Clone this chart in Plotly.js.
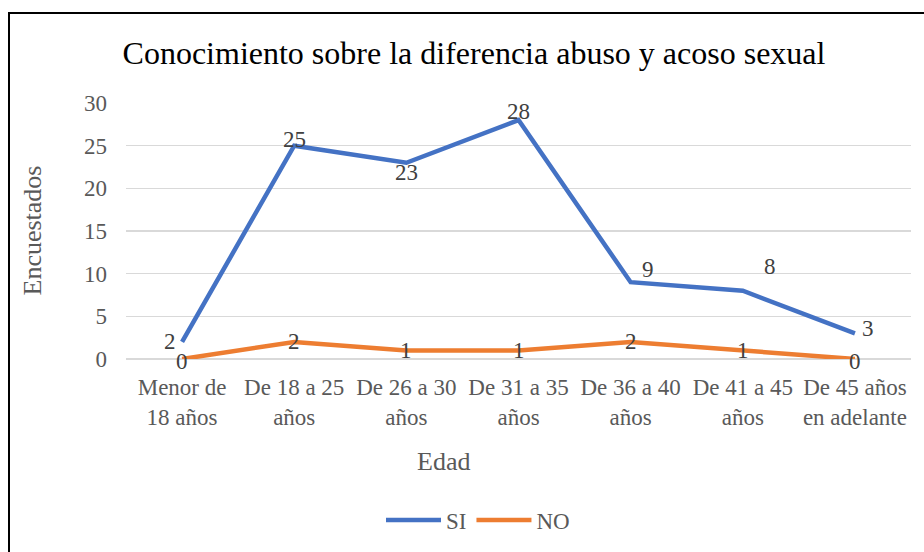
<!DOCTYPE html>
<html>
<head>
<meta charset="utf-8">
<script src="https://cdn.plot.ly/plotly-3.0.1.min.js"></script>
<style>
  html, body { margin: 0; padding: 0; background: #fff; overflow: hidden; }
  #wrap { position: relative; width: 924px; height: 552px; overflow: hidden; }
  #chart { position: absolute; left: 0; top: 0; width: 924px; height: 552px; }
  #frame { position: absolute; left: 8px; top: 12px; width: 1000px; height: 1000px;
           border: 2px solid #000; pointer-events: none; box-sizing: border-box; }
</style>
</head>
<body>
<div id="wrap">
  <div id="chart"></div>
  <div id="frame"></div>
</div>
<script>
const categories = ["Menor de<br>18 años", "De 18 a 25<br>años", "De 26 a 30<br>años", "De 31 a 35<br>años", "De 36 a 40<br>años", "De 41 a 45<br>años", "De 45 años<br>en adelante"];
const siValues = [2, 25, 23, 28, 9, 8, 3];
const noValues = [0, 2, 1, 1, 2, 1, 0];
const yTicks = [0, 5, 10, 15, 20, 25, 30];

// label offsets in px (dx right, dy up) relative to each point
const siLabelDx = [-12, 0, 0, 0, 17, 27, 13];
const siLabelDy = [0, 6, -10, 9, 13, 24, 5];
const noLabelDx = [0, 0, 0, 0, 0, 0, 0];
const noLabelDy = [-2, 0, 0, 0, 0, 0, -2];

const serif = "Liberation Serif, Times New Roman, serif";
const labelFont = { family: serif, size: 23, color: "#404040" };

const siTrace = {
  x: categories, y: siValues, name: "SI", type: "scatter", mode: "lines",
  line: { color: "#4472C4", width: 4.5 }
};
const noTrace = {
  x: categories, y: noValues, name: "NO", type: "scatter", mode: "lines",
  line: { color: "#ED7D31", width: 4.5 }
};

function labels(values, dx, dy) {
  return values.map((v, i) => ({
    text: String(v), xref: "x", yref: "y", x: categories[i], y: v,
    xshift: dx[i], yshift: dy[i], xanchor: "center", yanchor: "middle",
    showarrow: false, font: labelFont
  }));
}

const layout = {
  width: 924, height: 552,
  margin: { l: 126, r: 13, t: 103, b: 192 },
  paper_bgcolor: "#ffffff", plot_bgcolor: "#ffffff",
  font: { family: serif, size: 23, color: "#595959" },
  title: {
    text: "Conocimiento sobre la diferencia abuso y acoso sexual",
    font: { family: serif, size: 32, color: "#000000" },
    xref: "container", yref: "container",
    x: 474 / 924, xanchor: "center",
    y: 1 - 53 / 552, yanchor: "middle"
  },
  xaxis: {
    type: "category",
    range: [-0.5, 6.5],
    showgrid: false, zeroline: false, showline: false,
    ticks: "", ticklabelstandoff: 12,
    tickfont: { family: serif, size: 23, color: "#595959" },
    fixedrange: true
  },
  yaxis: {
    range: [0, 30],
    tickvals: yTicks,
    ticktext: yTicks.map(String),
    showgrid: true, gridcolor: "#D9D9D9", gridwidth: 1.3,
    zeroline: true, zerolinecolor: "#D9D9D9", zerolinewidth: 1.3,
    showline: false, ticks: "", ticklabelstandoff: 18,
    tickfont: { family: serif, size: 23, color: "#595959" },
    fixedrange: true
  },
  showlegend: true,
  legend: {
    orientation: "h",
    x: (478 - 126) / 785, xanchor: "center",
    y: (360 - 520) / 257, yanchor: "middle",
    font: { family: serif, size: 23, color: "#595959" },
    bgcolor: "rgba(0,0,0,0)",
    itemwidth: 55,
    tracegroupgap: 0
  },
  annotations: [
    {
      text: "Encuestados", xref: "paper", yref: "paper",
      x: (33 - 126) / 785, y: (360 - 231) / 257,
      xanchor: "center", yanchor: "middle", textangle: -90, showarrow: false,
      font: { family: serif, size: 26, color: "#595959" }
    },
    {
      text: "Edad", xref: "paper", yref: "paper",
      x: (443 - 126) / 785, y: (360 - 463) / 257,
      xanchor: "center", yanchor: "middle", showarrow: false,
      font: { family: serif, size: 26, color: "#595959" }
    }
  ].concat(labels(siValues, siLabelDx, siLabelDy), labels(noValues, noLabelDx, noLabelDy))
};

Plotly.newPlot("chart", [siTrace, noTrace], layout, { displayModeBar: false, staticPlot: true });
</script>
</body>
</html>
